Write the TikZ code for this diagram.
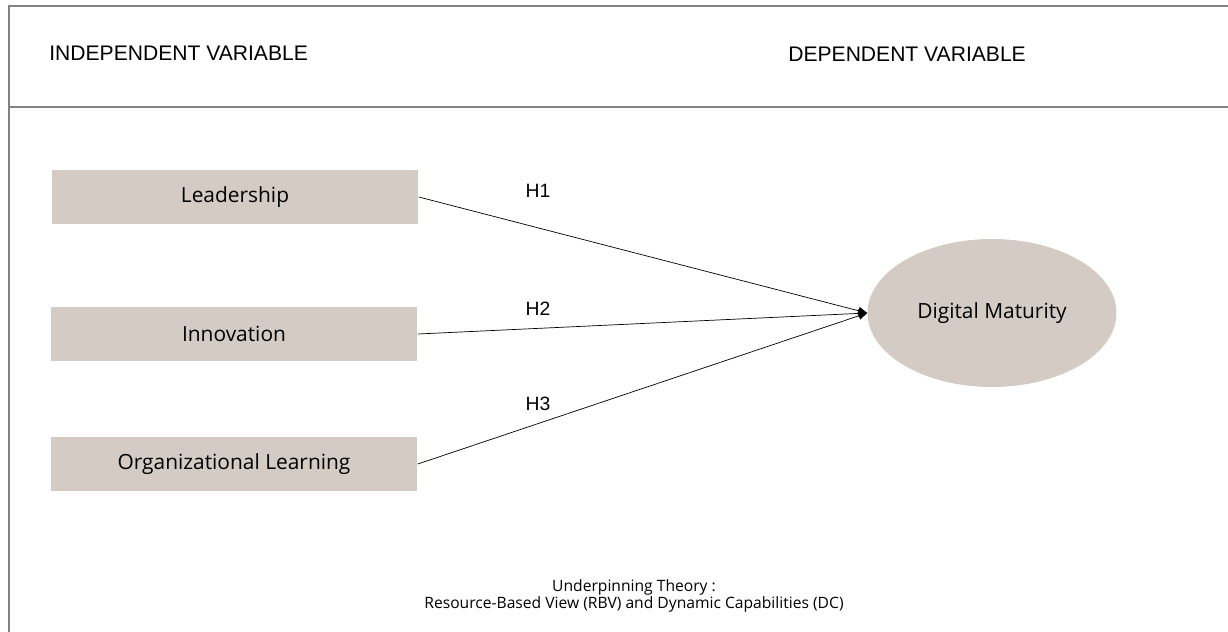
\documentclass[tikz,border=0pt]{standalone}
\usepackage{fontspec}
\setmainfont{Open Sans}
\newfontfamily\headfont{Liberation Sans}
\usetikzlibrary{arrows.meta,shapes.geometric}

\definecolor{varfill}{RGB}{212,203,197}
\definecolor{framegray}{RGB}{130,130,130}

\tikzset{
    varbox/.style={fill=varfill, minimum width=7.34cm, minimum height=1.08cm,
        inner sep=0pt, font=\fontsize{11.9}{14}\selectfont},
    dvellipse/.style={ellipse, fill=varfill, minimum width=4.98cm, minimum height=2.96cm,
        inner sep=0pt, font=\fontsize{11.9}{14}\selectfont},
    hyplabel/.style={font=\headfont\fontsize{11}{13}\selectfont, inner sep=0pt},
    headlabel/.style={font=\headfont\fontsize{12}{14}\selectfont, inner sep=0pt, anchor=base west},
    hypline/.style={thin, black, -{Triangle[length=5pt,width=4.5pt]}}
}

\begin{document}
\begin{tikzpicture}[x=0.02cm,y=-0.02cm]
    \useasboundingbox (0,0) rectangle (1228,632);
    \clip (0,0) rectangle (1228,632);

    % frame and header strip
    \draw[framegray, line width=1pt] (9,640) -- (9,6) -- (1240,6);
    \draw[framegray, line width=1pt] (9,107) -- (1240,107);
    \node[headlabel] (indep) at (49,60) {INDEPENDENT VARIABLE};
    \node[headlabel] (dep) at (788,61) {DEPENDENT VARIABLE};

    % variables
    \node[varbox] (lead) at (235,197) {Leadership};
    \node[varbox] (innov) at (234,334) {Innovation};
    \node[varbox] (orglearn) at (234,464) {Organizational Learning};
    \node[dvellipse] (digmat) at (992,313) {Digital Maturity};

    % hypotheses
    \draw[hypline] (lead.east) -- (digmat.west);
    \draw[hypline] (innov.east) -- (digmat.west);
    \draw[hypline] (orglearn.east) -- (digmat.west);
    \node[hyplabel] (h1) at (538,191) {H1};
    \node[hyplabel] (h2) at (538,309) {H2};
    \node[hyplabel] (h3) at (538,404) {H3};

    \node[align=center, inner sep=0pt, font=\fontsize{8.9}{9.8}\selectfont] (theory) at (634,596)
        {Underpinning Theory :\\Resource-Based View (RBV) and Dynamic Capabilities (DC)};
\end{tikzpicture}
\end{document}
